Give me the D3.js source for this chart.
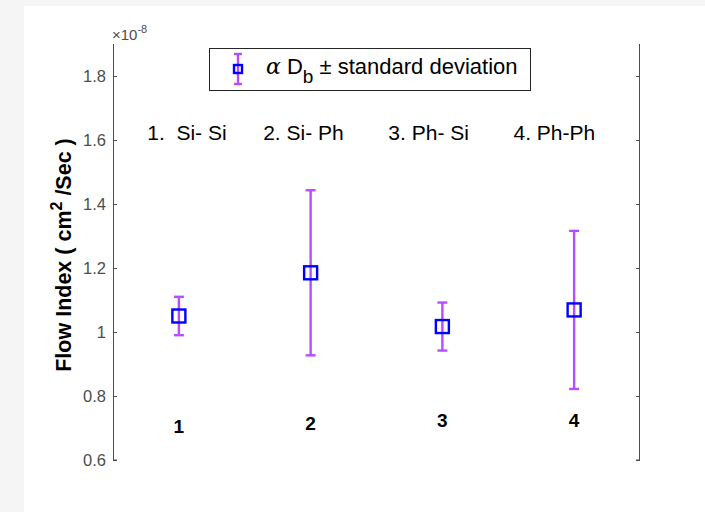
<!DOCTYPE html>
<html>
<head>
<meta charset="utf-8">
<script src="https://cdn.jsdelivr.net/npm/d3@7"></script>
<style>
  body { margin: 0; background: #f5f5f5; }
  svg { display: block; font-family: "Liberation Sans", Arial, sans-serif; }
</style>
</head>
<body>
<script>
// data (units of 1e-8 cm^2/s)
var groups = [1, 2, 3, 4]
var means = [1.05, 1.185, 1.017, 1.069]
var sds = [0.06, 0.258, 0.075, 0.247]
var pairNames = ['1.  Si- Si', '2. Si- Ph', '3. Ph- Si', '4. Ph-Ph']
var pairX = [0.76, 1.64, 2.59, 3.54]
var numLabels = ['1', '2', '3', '4']
var numLabelY = [0.715, 0.725, 0.735, 0.735]
var yTicks = [0.6, 0.8, 1, 1.2, 1.4, 1.6, 1.8]

var W = 705, H = 512
var svg = d3.select('body').append('svg').attr('width', W).attr('height', H)

// white panel
svg.append('rect').attr('x', 24).attr('y', 6).attr('width', W - 24).attr('height', H - 6).attr('fill', '#fff')

var x = d3.scaleLinear().domain([0.5, 4.5]).range([113, 640])
var y = d3.scaleLinear().domain([0.6, 1.9]).range([460, 44])

var axisCol = '#4d4d4d'

// left axis
var yAxisL = svg.append('g').attr('transform', 'translate(113,0)')
  .call(d3.axisRight(y).tickValues(yTicks).tickSize(4).tickFormat(d3.format('~g')))
yAxisL.select('.domain').attr('d', 'M0.5,' + y(1.9) + 'V' + y(0.6) + 'H4').attr('stroke', axisCol)
yAxisL.selectAll('.tick line').attr('stroke', axisCol)
yAxisL.selectAll('.tick text').attr('x', -7).attr('text-anchor', 'end')
  .attr('fill', axisCol).style('font-size', '16.5px')

// right axis
var yAxisR = svg.append('g').attr('transform', 'translate(640,0)')
  .call(d3.axisLeft(y).tickValues(yTicks).tickSize(4).tickFormat(''))
yAxisR.select('.domain').attr('d', 'M-0.5,' + y(1.9) + 'V' + y(0.6) + 'H-4').attr('stroke', axisCol)
yAxisR.selectAll('.tick line').attr('stroke', axisCol)

// exponent
var expo = svg.append('text').attr('x', 112).attr('y', 40).attr('fill', axisCol).style('font-size', '15px')
expo.append('tspan').text('\u00d710')
expo.append('tspan').attr('dy', -7).style('font-size', '11px').text('-8')

// y label
var yl = svg.append('text').attr('transform', 'translate(71,' + 255 + ') rotate(-90)')
  .attr('text-anchor', 'middle').style('font-size', '21.5px').style('font-weight', 'bold').attr('fill', '#000')
yl.append('tspan').text('Flow Index ( cm')
yl.append('tspan').attr('dy', -9).style('font-size', '16px').text('2')
yl.append('tspan').attr('dy', 9).text(' /Sec )')

var purple = '#b84cff', blue = '#0000ff'

// error bars
var eb = svg.append('g').selectAll('g').data(groups).join('g')
eb.append('line')
  .attr('x1', function (d) { return x(d) }).attr('x2', function (d) { return x(d) })
  .attr('y1', function (d, i) { return y(means[i] + sds[i]) })
  .attr('y2', function (d, i) { return y(means[i] - sds[i]) })
  .attr('stroke', purple).attr('stroke-width', 2.4)
eb.selectAll('line.cap').data(function (d, i) {
    return [{ g: d, v: means[i] + sds[i] }, { g: d, v: means[i] - sds[i] }]
  }).join('line').attr('class', 'cap')
  .attr('x1', function (d) { return x(d.g) - 5 }).attr('x2', function (d) { return x(d.g) + 5 })
  .attr('y1', function (d) { return y(d.v) }).attr('y2', function (d) { return y(d.v) })
  .attr('stroke', purple).attr('stroke-width', 2.4)
eb.append('rect')
  .attr('x', function (d) { return x(d) - 6.5 }).attr('y', function (d, i) { return y(means[i]) - 6.5 })
  .attr('width', 13).attr('height', 13)
  .attr('fill', 'none').attr('stroke', blue).attr('stroke-width', 2.4)

// pair names
svg.append('g').selectAll('text').data(pairNames).join('text')
  .attr('x', function (d, i) { return x(pairX[i]) })
  .attr('y', y(1.6))
  .style('font-size', '21px').attr('fill', '#000').style('white-space', 'pre')
  .attr('xml:space', 'preserve')
  .text(function (d) { return d })

// number labels
svg.append('g').selectAll('text').data(numLabels).join('text')
  .attr('x', function (d, i) { return x(groups[i]) }).attr('y', function (d, i) { return y(numLabelY[i]) + 10 })
  .attr('text-anchor', 'middle').style('font-size', '19px').style('font-weight', 'bold')
  .text(function (d) { return d })

// legend
var lg = svg.append('g')
lg.append('rect').attr('x', 209.5).attr('y', 48.5).attr('width', 321).attr('height', 42)
  .attr('fill', '#fff').attr('stroke', '#262626').attr('stroke-width', 1)
lg.append('line').attr('x1', 238).attr('x2', 238).attr('y1', 54).attr('y2', 84).attr('stroke', purple).attr('stroke-width', 2.4)
lg.append('line').attr('x1', 234).attr('x2', 242).attr('y1', 54).attr('y2', 54).attr('stroke', purple).attr('stroke-width', 2.4)
lg.append('line').attr('x1', 234).attr('x2', 242).attr('y1', 84).attr('y2', 84).attr('stroke', purple).attr('stroke-width', 2.4)
lg.append('rect').attr('x', 234).attr('y', 65).attr('width', 8).attr('height', 8)
  .attr('fill', 'none').attr('stroke', blue).attr('stroke-width', 2.4)
var lt = lg.append('text').attr('x', 266).attr('y', 74).style('font-size', '22px').attr('fill', '#000')
lt.append('tspan').style('font-family', '"DejaVu Serif", serif').style('font-style', 'italic').text('\u03b1')
lt.append('tspan').text(' D')
lt.append('tspan').attr('dy', 9).style('font-size', '19px').text('b')
lt.append('tspan').attr('dy', -9).text(' \u00b1 standard deviation')
</script>
</body>
</html>
